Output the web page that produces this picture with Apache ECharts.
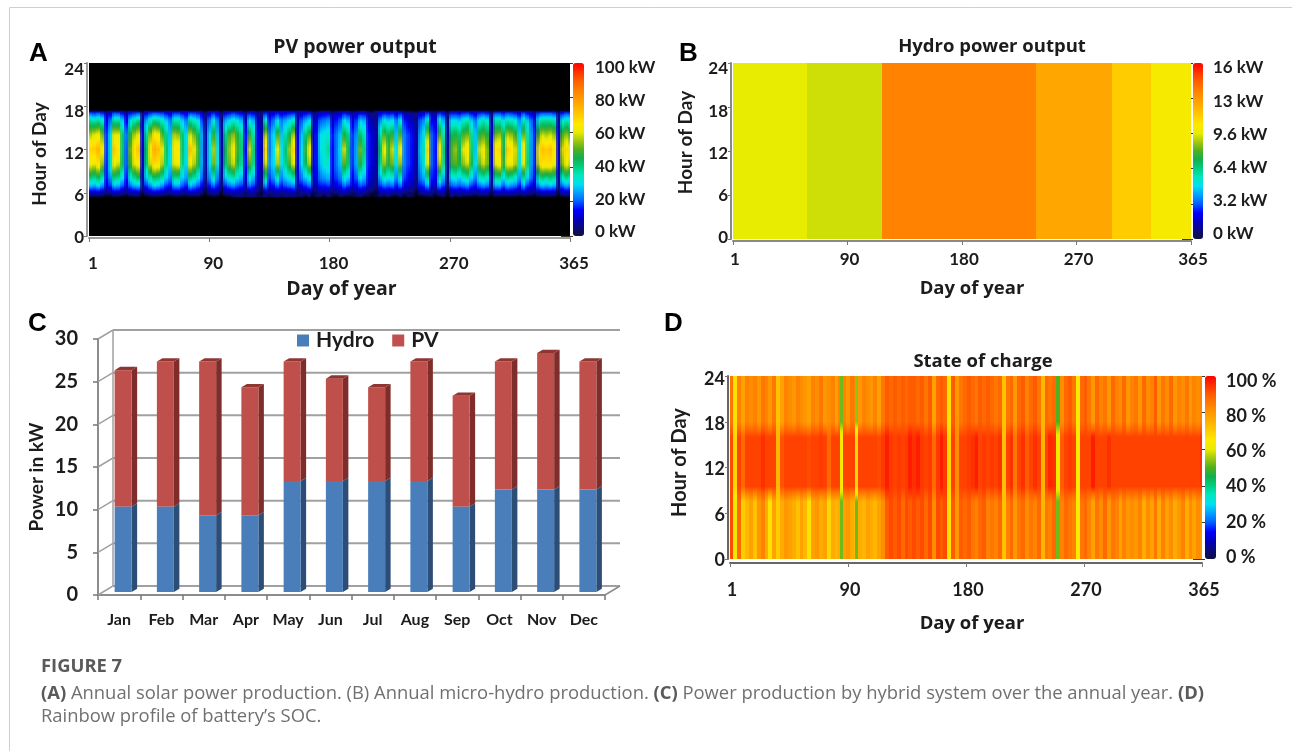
<!DOCTYPE html>
<html><head><meta charset="utf-8">
<style>html,body{margin:0;padding:0;background:#fff}#c{width:1292px;height:751px}</style>
<script src="https://cdn.jsdelivr.net/npm/echarts@6/dist/echarts.min.js"></script>
</head><body><div id="c"></div>
<script>
// ---------- shared tick labels ----------
const dayTicks = ['1','90','180','270','365'];
const hourTicks = [0,6,12,18,24];
const pvBarTicks = ['0 kW','20 kW','40 kW','60 kW','80 kW','100 kW'];
const hydroBarTicks = ['0 kW','3.2 kW','6.4 kW','9.6 kW','13 kW','16 kW'];
const socBarTicks = ['0 %','20 %','40 %','60 %','80 %','100 %'];
const rainbow = ['#10103c','#0a0a80','#0000c0','#0000ff','#0060ff','#00a0ff','#00e0f0','#00e8c0','#00d080','#10b050','#50b020','#a0c810','#e8ec00','#ffe800','#ffcc00','#ffb000','#ff9800','#ff7c00','#ff5c00','#ff3000','#ff0000'];

// ---------- A: PV power (kW), one row per hour, one value per 3-day column ----------
const columnDays = [1,4,7,10,13,16,19,22,25,28,31,34,37,40,43,46,49,52,55,58,61,64,67,70,73,76,79,82,85,88,91,94,97,100,103,106,109,112,115,118,121,124,127,130,133,136,139,142,145,148,151,154,157,160,163,166,169,172,175,178,181,184,187,190,193,196,199,202,205,208,211,214,217,220,223,226,229,232,235,238,241,244,247,250,253,256,259,262,265,268,271,274,277,280,283,286,289,292,295,298,301,304,307,310,313,316,319,322,325,328,331,334,337,340,343,346,349,352,355,358,361,364];
const pvHours = [5.3,6,7,8,10,12,14,16,17,17.4];
const pvH05 = [0,0,0,0,0,0,0,0,0,0,0,0,0,0,0,0,0,0,0,0,0,0,0,0,0,0,0,0,0,0,0,0,0,0,0,0,3,4,4,4,3,4,3,4,4,3,4,4,3,4,3,3,4,3,0,3,0,4,3,0,4,2,0,3,0,0,2,3,4,0,2,0,3,3,0,3,0,0,3,0,4,3,0,0,0,0,3,0,0,3,0,4,0,3,0,0,0,0,0,0,0,0,0,0,0,0,0,0,0,0,0,0,0,0,0,0,0,0,0,0,0,0];
const pvH06 = [10,10,11,9,5,6,10,10,7,5,8,10,10,3,6,9,11,10,9,7,6,9,10,7,6,10,9,8,5,2,6,8,6,2,7,8,9,8,7,4,8,7,4,2,9,5,6,8,6,7,8,9,4,6,7,8,3,4,6,6,7,4,5,6,8,7,4,5,8,7,4,3,2,7,8,8,8,6,8,5,4,4,2,6,7,9,5,4,9,7,2,8,8,7,8,9,7,6,8,9,8,3,10,10,8,10,9,8,6,10,7,6,4,9,10,10,10,9,3,8,10,9];
const pvH07 = [28,26,30,24,12,18,28,26,20,12,22,26,28,7,18,24,30,28,24,18,16,26,26,20,16,28,24,20,14,5,16,22,16,5,18,22,24,20,18,9,22,18,9,5,24,13,16,22,16,20,22,24,9,15,18,22,6,10,16,16,18,9,13,16,22,18,11,14,20,18,10,8,5,18,22,20,22,16,22,13,11,9,5,16,18,26,12,10,24,18,5,20,22,20,22,24,18,16,22,24,22,6,26,26,20,26,24,22,16,26,18,14,10,24,28,26,28,26,6,22,26,24];
const pvH08 = [40,38,42,36,16,24,40,38,30,16,32,38,42,8,28,36,42,40,36,28,22,38,38,28,24,40,36,30,20,6,24,34,22,6,28,34,36,30,26,12,32,26,12,6,38,18,24,34,22,28,32,36,12,22,28,32,8,14,22,24,26,12,18,22,32,28,14,20,30,26,14,10,6,26,34,30,32,22,34,18,14,12,6,22,26,38,16,14,36,26,6,30,32,28,34,36,28,22,34,36,32,8,38,38,30,38,36,32,24,38,28,20,14,36,40,38,40,38,8,34,38,36];
const pvH10 = [62,60,66,54,17,34,62,58,44,20,48,60,64,10,40,58,68,66,56,40,30,60,62,40,30,62,56,46,26,8,30,52,30,8,42,52,58,44,38,16,50,38,14,8,58,24,30,56,30,40,50,60,14,30,44,56,12,16,28,32,34,15,22,28,50,42,18,26,46,36,16,12,8,38,54,46,52,30,54,22,18,14,8,26,34,60,20,16,56,38,8,48,50,46,54,58,44,30,52,58,52,12,60,64,48,62,62,56,32,60,40,24,16,58,66,66,66,62,12,54,62,58];
const pvH12 = [68,70,74,62,18,32,70,66,42,20,52,66,72,10,42,62,76,72,60,42,30,64,66,42,32,72,60,48,25,8,32,56,30,8,44,55,62,48,40,15,58,40,14,8,68,22,30,60,30,42,55,68,14,30,48,62,10,16,30,34,38,15,22,30,58,44,18,26,52,40,16,12,8,42,62,48,58,30,62,22,18,14,8,28,36,68,20,16,64,40,8,50,54,44,60,66,40,28,58,62,52,10,66,68,44,70,66,58,30,66,38,24,16,62,72,70,72,66,10,58,68,62];
const pvH14 = [56,60,62,52,18,30,60,60,42,22,46,56,60,12,38,54,64,62,50,40,28,56,54,42,30,58,52,44,26,8,30,48,28,8,40,50,54,46,38,16,48,36,14,8,56,22,30,50,28,38,46,56,14,28,42,50,10,16,30,32,34,16,22,28,46,40,18,24,42,36,16,12,8,36,50,44,48,28,50,22,18,14,8,26,32,54,20,16,50,36,8,44,46,42,50,52,38,28,48,50,46,12,52,54,44,56,54,48,30,52,36,24,16,50,58,56,58,54,12,50,54,50];
const pvH16 = [38,36,38,34,14,22,38,38,28,14,30,36,40,8,26,34,40,38,34,28,22,36,36,28,22,38,34,30,18,6,22,32,22,6,26,30,34,30,26,10,30,26,10,6,34,16,22,30,22,26,30,34,10,20,26,30,8,12,20,22,24,10,16,20,30,26,12,18,28,26,12,8,6,24,32,28,30,22,32,16,12,10,6,20,24,36,14,12,34,26,6,30,30,28,34,36,28,22,32,36,32,8,36,36,30,36,34,32,24,36,28,20,12,34,38,38,38,36,8,32,36,34];
const pvH17 = [20,18,20,17,9,13,20,19,15,9,16,18,20,6,14,18,20,19,18,15,13,18,18,15,13,19,18,16,11,5,13,17,13,5,14,16,18,16,14,7,16,14,7,5,17,10,13,16,13,14,16,17,7,12,14,16,5,8,12,13,14,7,10,12,16,14,8,11,15,14,8,6,5,13,16,15,16,12,16,10,8,7,5,12,13,18,9,8,17,14,5,16,16,15,17,18,15,13,17,18,16,5,19,19,16,19,18,16,13,19,15,12,8,18,20,20,20,18,6,16,19,18];
const pvH18 = [0,0,0,0,0,0,0,0,0,0,0,0,0,0,0,0,0,0,0,0,0,0,0,0,6,2,0,0,0,0,0,0,0,0,0,0,0,0,0,0,0,0,0,4,5,3,5,6,5,6,3,5,6,4,5,0,0,0,0,0,0,0,0,0,0,0,0,0,0,0,0,0,5,6,5,3,0,3,4,0,0,0,0,0,0,0,0,0,0,0,0,0,0,0,0,0,0,0,0,0,0,0,0,0,0,0,0,0,0,0,0,0,0,0,0,0,0,0,0,0,0,0];

// ---------- B: hydro power (kW), constant over the day ----------
const hydroDays = [1,60,120,242,303,334];
const hydroEnds = [60,120,242,303,334,365];
const hydroKw = [9.6,9.3,13.4,12.3,11.2,10.1];
const hydroHours = [0,24];

// ---------- C: monthly power (kW) ----------
const months = ['Jan','Feb','Mar','Apr','May','Jun','Jul','Aug','Sep','Oct','Nov','Dec'];
const hydroMonthly = [10,10,9,9,13,13,13,13,10,12,12,12];
const pvMonthly = [16,17,18,15,14,12,11,14,13,15,16,15];
const powerTicks = [0,5,10,15,20,25,30];

// ---------- D: battery state of charge (%), 3-day columns, then two thin 1.5-day stripes ----------
const socHours = [0,7.5,9.5,16,18,24];
const socLow = [92,62,88,70,74,78,72,80,84,76,66,78,70,76,80,78,76,72,78,74,66,78,80,76,78,68,76,74,76,78,80,76,74,76,74,78,76,74,78,82,90,92,90,92,88,92,90,92,90,92,88,92,82,92,90,92,66,90,80,90,88,90,86,84,88,90,84,86,84,88,72,84,88,80,86,88,82,86,84,88,74,86,84,88,52,84,88,86,84,64,86,88,84,78,86,82,88,80,86,84,78,84,80,82,80,84,76,82,78,86,76,84,78,82,76,80,84,76,82,78,82,80,52,52];
const socMid = [92,68,93,88,93,93,93,93,95,93,93,93,74,91,93,93,93,93,93,93,92,93,93,94,93,88,93,93,93,93,93,93,93,93,93,93,93,93,92,94,97,94,93,94,93,94,97,95,97,94,93,94,88,94,97,94,68,93,82,93,93,94,95,97,93,94,93,94,93,95,72,93,95,86,93,95,90,93,95,93,74,93,96,95,62,90,93,94,93,64,93,93,93,97,93,93,93,95,93,93,93,93,93,93,93,93,93,93,93,93,93,93,93,93,93,93,93,93,93,93,93,95,64,68];
const socTop = [86,66,84,78,84,82,84,80,86,84,80,86,72,78,84,82,80,84,82,80,78,84,82,86,80,82,84,78,84,84,80,86,84,80,84,82,80,84,78,86,90,88,90,88,90,88,90,90,88,90,86,90,78,88,90,88,66,90,80,86,88,90,88,86,90,88,90,88,86,88,72,86,88,80,88,90,84,88,90,86,74,88,86,88,50,82,88,90,86,64,88,90,86,80,88,84,86,80,88,84,82,88,80,84,86,80,88,82,84,90,80,86,82,88,80,84,82,86,80,84,82,84,52,54];
const thinStripeDays = [86,98];
const socDays = columnDays.concat(thinStripeDays);

// ---------- styles ----------
const FONT = 'Lato', WIDE = 'Open Sans';
const INK = '#1c1c1c';
const grids = [], xAxes = [], yAxes = [], seriesList = [], visualMaps = [];

function colorOf(v, max){
  const r = v/max;
  if(r<0.05){ // the empty part of the plot is black
    const k = Math.max(0,r/0.05);
    return 'rgb('+Math.round(10*k)+','+Math.round(10*k)+','+Math.round(128*k)+')';
  }
  const t = Math.min(1, r) * (rainbow.length-1);
  const i = Math.min(rainbow.length-2, Math.floor(t)), f = t-i;
  const a = rainbow[i], b = rainbow[i+1];
  const ch = k => Math.round(parseInt(a.substr(k,2),16)*(1-f)+parseInt(b.substr(k,2),16)*f);
  return 'rgb('+ch(1)+','+ch(3)+','+ch(5)+')';
}
function heatRender(hours, max, smooth, empty){
  return function(params, api){
    const cs = params.coordSys;
    const a = api.coord([api.value(0), 24]), b = api.coord([api.value(1), 0]);
    const stops = [];
    const n = 96;
    for(let s=0;s<=n;s++){
      const h = 24*(1-s/n);
      let v = 0;
      if(h<=hours[0]) v = empty ? 0 : api.value(2);
      else if(h>=hours[hours.length-1]) v = empty ? 0 : api.value(1+hours.length);
      else for(let k=0;k<hours.length-1;k++){
        if(h>=hours[k] && h<=hours[k+1]){
          const f=(h-hours[k])/(hours[k+1]-hours[k]);
          v = api.value(2+k)*(1-f)+api.value(3+k)*f; break;
        }
      }
      stops.push({offset:s/n,color:colorOf(v,max)});
    }
    const grad = new echarts.graphic.LinearGradient(0,0,0,1,stops);
    const rect = {x:cs.x,y:cs.y,width:cs.width,height:cs.height};
    const x0 = Math.floor(a[0]), w = Math.max(1,Math.round(b[0]-a[0]));
    const main = echarts.graphic.clipRectByRect({x:x0,y:a[1],width:w+1,height:b[1]-a[1]},rect);
    const kids = [];
    if(main) kids.push({type:'rect',shape:main,style:{fill:grad},z2:0});
    if(smooth){
      const half = echarts.graphic.clipRectByRect({x:x0+Math.round(w/2),y:a[1],width:w,height:b[1]-a[1]},rect);
      if(half) kids.push({type:'rect',shape:half,style:{fill:grad,opacity:smooth},z2:1});
    }
    return {type:'group',children:kids};
  };
}
function addHeatPanel(p){
  const g = grids.length;
  grids.push({left:p.x0,top:p.y0,width:p.x1-p.x0,height:p.y1-p.y0,show:true,borderWidth:0,backgroundColor:p.empty?'#000':'transparent'});
  const xVal = xAxes.length;
  xAxes.push({gridIndex:g,type:'value',min:1,max:365,show:false});
  xAxes.push({gridIndex:g,type:'category',data:dayTicks,boundaryGap:false,position:'bottom',offset:p.axOff,
    name:'Day of year',nameLocation:'middle',nameGap:p.nameGap,
    nameTextStyle:{fontFamily:WIDE,fontWeight:'bold',fontSize:p.xNameSize,color:INK,padding:[0,0,0,p.namePad]},
    axisLine:{lineStyle:{color:p.axColor,width:2}},axisTick:{show:true,length:4,alignWithLabel:true,lineStyle:{color:'#777',width:1}},
    axisLabel:{show:true,interval:0,margin:p.labMargin,padding:[0,0,0,p.labPad],fontFamily:FONT,fontWeight:'bold',fontSize:p.tickSize,color:INK},splitLine:{show:false}});
  const yVal = yAxes.length;
  yAxes.push({gridIndex:g,type:'value',min:0,max:24,interval:6,position:'left',offset:2,
    axisLine:{show:true,lineStyle:{color:p.axColor,width:2}},axisTick:{show:true,length:3,lineStyle:{color:'#777'}},axisLabel:{show:false},splitLine:{show:false}});
  seriesList.push({name:p.title,type:'custom',coordinateSystem:'cartesian2d',xAxisIndex:xVal,yAxisIndex:yVal,
    renderItem:heatRender(p.hours,p.max,p.smooth,p.empty),silent:true,animation:false,clip:false,
    encode:{x:[0,1],y:[]},data:p.days.map((d,i)=>[d,p.ends?p.ends[i]:d+(p.thinFrom!==undefined&&i>=p.thinFrom?1.5:p.step)].concat(p.rows.map(r=>r[i])))});
  const sIdx = seriesList.length-1;
  const gl = grids.length;
  grids.push({left:p.x0,top:p.labTop,width:p.x1-p.x0,height:p.labBottom-p.labTop});
  xAxes.push({gridIndex:gl,type:'value',show:false});
  yAxes.push({gridIndex:gl,type:'category',data:hourTicks.map(String),boundaryGap:false,position:'left',
    name:'Hour of Day',nameLocation:'middle',nameGap:p.yNameGap,
    nameTextStyle:{fontFamily:FONT,fontWeight:'bold',fontSize:p.yNameSize,color:INK,padding:[0,p.yNameDown||0,0,p.yNameUp||0]},
    axisLine:{show:false},axisTick:{show:false},splitLine:{show:false},
    axisLabel:{interval:0,margin:p.yLabMargin,fontFamily:FONT,fontWeight:'bold',fontSize:p.tickSize,color:INK}});
  visualMaps.push({type:'continuous',seriesIndex:sIdx,dimension:2,min:0,max:p.max,show:true,calculable:false,hoverLink:false,
    left:p.barX,top:p.y0,itemWidth:p.barW,itemHeight:p.y1-p.y0,padding:0,inRange:{color:rainbow},textStyle:{fontSize:1,color:'transparent'}});
  const gt = grids.length;
  grids.push({left:p.barX,top:p.y0,width:p.barW,height:p.y1-p.y0});
  xAxes.push({gridIndex:gt,type:'value',show:false});
  yAxes.push({gridIndex:gt,type:'category',data:p.barTicks,boundaryGap:false,position:'right',
    axisLine:{show:false},axisLabel:{show:false},splitLine:{show:false},axisTick:{show:true,inside:true,length:p.barW+1,interval:0,lineStyle:{color:'#3a3a2a',width:1}}});
  const gu = grids.length;
  grids.push({left:p.barX,top:p.barLabTop,width:p.barW,height:p.barLabBottom-p.barLabTop});
  xAxes.push({gridIndex:gu,type:'value',show:false});
  yAxes.push({gridIndex:gu,type:'category',data:p.barTicks,boundaryGap:false,position:'right',
    axisLine:{show:false},axisTick:{show:false},splitLine:{show:false},
    axisLabel:{interval:0,margin:p.barLabMargin,fontFamily:FONT,fontWeight:'bold',fontSize:p.tickSize,color:INK}});
}
addHeatPanel({title:'PV power output',x0:89,x1:570,y0:63,y1:236,hours:pvHours,max:100,smooth:0.25,empty:true,step:3,days:columnDays,
  rows:[pvH05,pvH06,pvH07,pvH08,pvH10,pvH12,pvH14,pvH16,pvH17,pvH18],axOff:2,axColor:'#9a9a9a',nameGap:41,xNameSize:19.5,yNameSize:19,namePad:24,labMargin:17,labPad:8,tickSize:17,
  labTop:70,labBottom:238,yNameGap:40,yLabMargin:5,barX:573,barW:11,barTicks:pvBarTicks,barLabTop:68,barLabBottom:232,barLabMargin:11});
addHeatPanel({title:'Hydro power output',x0:733,x1:1191,y0:63,y1:239,hours:hydroHours,max:16,smooth:0,days:hydroDays,ends:hydroEnds,
  rows:[hydroKw,hydroKw],axOff:2,axColor:'#8a8a8a',nameGap:38,xNameSize:18.5,yNameSize:19,namePad:20,labMargin:10,labPad:4,tickSize:17,
  labTop:69,labBottom:238,yNameGap:38,yNameUp:22,yLabMargin:5,barX:1193,barW:10,barTicks:hydroBarTicks,barLabTop:68,barLabBottom:234,barLabMargin:10});
addHeatPanel({title:'State of charge',x0:730,x1:1202,y0:376,y1:559,hours:socHours,max:100,smooth:0,step:3,thinFrom:columnDays.length,days:socDays,
  rows:[socLow,socLow,socMid,socMid,socTop,socTop],axOff:4,axColor:'#666',nameGap:51,xNameSize:18.5,yNameSize:20,namePad:12,labMargin:18,labPad:4,tickSize:18,
  labTop:379,labBottom:560,yNameGap:40,yNameUp:14,yLabMargin:5,barX:1205,barW:11,barTicks:socBarTicks,barLabTop:381,barLabBottom:557,barLabMargin:10});

// ---------- C: 3-D looking stacked columns ----------
const depthX = 15, depthY = 9, barW = 17, barDX = 5.5, barDY = 3.3, shiftX = 4, shiftY = -3;
const gc = grids.length;
grids.push({left:98,top:339,width:507,height:256});
xAxes.push({gridIndex:gc,type:'category',data:months,boundaryGap:true,
  axisLine:{lineStyle:{color:'#8c8c8c',width:2}},axisTick:{show:true,length:5,lineStyle:{color:'#777',width:1.5}},
  axisLabel:{interval:0,margin:17,fontFamily:FONT,fontWeight:'bold',fontSize:16,color:INK}});
yAxes.push({gridIndex:gc,type:'value',min:0,max:30,interval:5,
  name:'Power in kW',nameLocation:'middle',nameGap:52,nameTextStyle:{fontFamily:FONT,fontWeight:'bold',fontSize:19,color:INK,padding:[0,20,0,0]},
  axisLine:{show:true,lineStyle:{color:'#8c8c8c',width:2}},axisTick:{show:true,length:5,lineStyle:{color:'#777',width:1.5}},splitLine:{show:false},
  axisLabel:{margin:20,fontFamily:FONT,fontWeight:'bold',fontSize:20,color:INK}});
const xc = xAxes.length-1, yc = yAxes.length-1;
seriesList.push({name:'walls',type:'custom',xAxisIndex:xc,yAxisIndex:yc,silent:true,animation:false,clip:false,z:1,
  encode:{x:[],y:0},data:powerTicks.map(t=>[t]),
  renderItem(params,api){
    const cs = params.coordSys, y = api.coord([0,api.value(0)])[1];
    const l = cs.x, r = cs.x+cs.width;
    const kids = [
      {type:'line',shape:{x1:l,y1:y,x2:l+depthX,y2:y-depthY},style:{stroke:'#a0a0a0',lineWidth:1.5}},
      {type:'line',shape:{x1:l+depthX,y1:y-depthY,x2:r+depthX,y2:y-depthY},style:{stroke:'#a0a0a0',lineWidth:2}}
    ];
    if(api.value(0)===0){
      kids.push({type:'line',shape:{x1:r,y1:y,x2:r+depthX,y2:y-depthY},style:{stroke:'#8c8c8c',lineWidth:1.5}});
      kids.push({type:'line',shape:{x1:l+depthX,y1:y-depthY,x2:l+depthX,y2:cs.y-depthY},style:{stroke:'#a0a0a0',lineWidth:1.5}});
    }
    return {type:'group',children:kids};
  }});
function barRender(front,side,top,cap){
  return function(params,api){
    const i = api.value(0);
    const c0 = api.coord([i,api.value(1)]), c1 = api.coord([i,api.value(2)]);
    const xl = c0[0]+shiftX-barW/2, xr = xl+barW, yb = c0[1]+shiftY, yt = c1[1]+shiftY;
    const kids = [
      {type:'polygon',shape:{points:[[xr,yb],[xr+barDX,yb-barDY],[xr+barDX,yt-barDY],[xr,yt]]},style:{fill:side},z2:1},
      {type:'rect',shape:{x:xl,y:yt,width:barW,height:yb-yt},style:{fill:front},z2:2}
    ];
    if(cap) kids.push({type:'polygon',shape:{points:[[xl,yt],[xl+barDX,yt-barDY],[xr+barDX,yt-barDY],[xr,yt]]},style:{fill:top},z2:3});
    return {type:'group',children:kids};
  };
}
seriesList.push({name:'PV',type:'custom',xAxisIndex:xc,yAxisIndex:yc,animation:false,z:3,itemStyle:{color:'#c0504d'},
  encode:{x:0,y:[1,2]},renderItem:barRender('#bf4f4b','#7f2d2b','#8f3633',true),
  data:months.map((m,i)=>[i,hydroMonthly[i],hydroMonthly[i]+pvMonthly[i]])});
seriesList.push({name:'Hydro',type:'custom',xAxisIndex:xc,yAxisIndex:yc,animation:false,z:4,itemStyle:{color:'#4a7ebb'},
  encode:{x:0,y:[1,2]},renderItem:barRender('#4a7ebb','#2c4d75','#2c4d75',false),
  data:months.map((m,i)=>[i,0,hydroMonthly[i]])});

// ---------- titles, panel letters, caption ----------
const centerTitle = (text,x,y,size)=>({text,left:x,top:y,textAlign:'center',textVerticalAlign:'middle',padding:0,
  textStyle:{fontFamily:WIDE,fontWeight:'bold',fontSize:size,color:INK}});
const letter = (t,x,y)=>({type:'text',left:x,top:y,style:{text:t,fontFamily:'Liberation Sans',fontWeight:'bold',fontSize:26,fill:'#000'}});
const capStyle = {fontFamily:WIDE,fontSize:18.4,fill:'#707070'};
const graphics = [
  {type:'line',shape:{x1:9.5,y1:7.5,x2:1292,y2:7.5},style:{stroke:'#cfcfcf',lineWidth:1}},
  {type:'line',shape:{x1:9.5,y1:7.5,x2:9.5,y2:751},style:{stroke:'#cfcfcf',lineWidth:1}},
  letter('A',29,41),letter('B',679,41),letter('C',28,311),letter('D',664,311),
  {type:'text',left:41,top:658,style:{text:'FIGURE 7',fontFamily:WIDE,fontWeight:'bold',fontSize:18.4,fill:'#5a5a5a'}},
  {type:'text',left:41,top:685,style:Object.assign({},capStyle,{
    text:'{b|(A)} Annual solar power production. (B) Annual micro-hydro production. {b|(C)} Power production by hybrid system over the annual year. {b|(D)}',
    rich:{b:{fontFamily:WIDE,fontWeight:'bold',fontSize:18.4,fill:'#5a5a5a'}}})},
  {type:'text',left:41,top:708,style:Object.assign({},capStyle,{text:'Rainbow profile of battery\u2019s SOC.'})}
];
const chart = echarts.init(document.getElementById('c'),null,{renderer:'canvas'});
chart.setOption({
  animation:false,backgroundColor:'#fff',
  title:[centerTitle('PV power output',355,47,19.5),centerTitle('Hydro power output',992,47,18.5),centerTitle('State of charge',983,362,18.5)],
  legend:{data:['Hydro','PV'],left:297,top:330,padding:0,itemWidth:12,itemHeight:12,itemGap:18,icon:'rect',
    textStyle:{fontFamily:FONT,fontWeight:'bold',fontSize:21,color:INK,padding:[0,0,0,2]}},
  grid:grids,xAxis:xAxes,yAxis:yAxes,series:seriesList,visualMap:visualMaps,graphic:graphics
});
</script></body></html>
